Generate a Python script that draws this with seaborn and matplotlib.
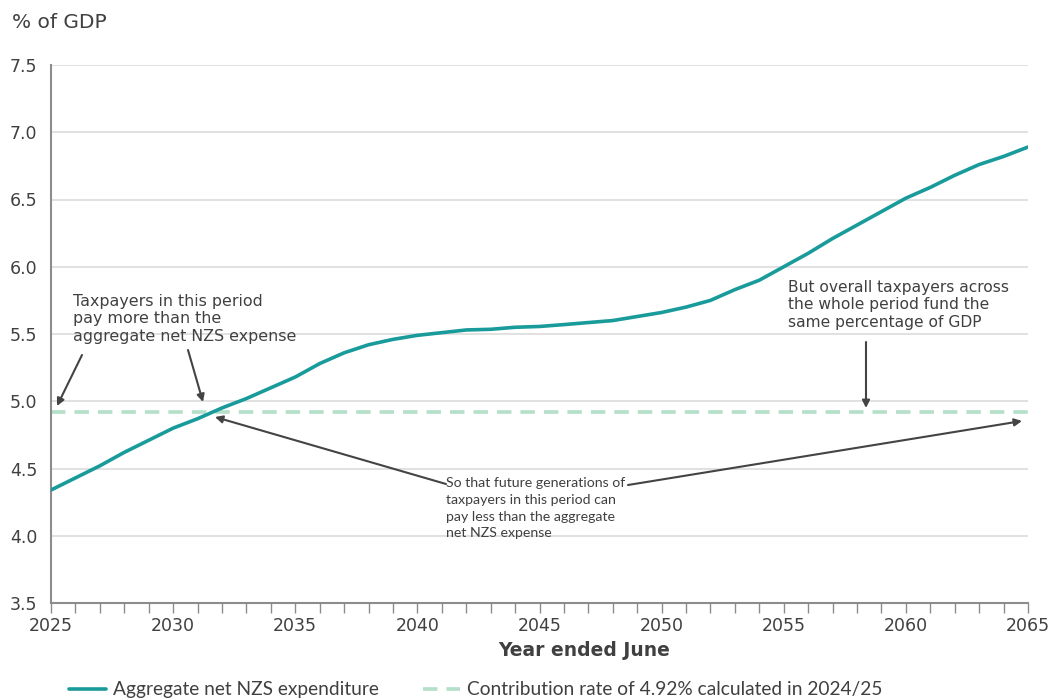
import numpy as np
import pandas as pd
import matplotlib
matplotlib.use("Agg")
import matplotlib.pyplot as plt
import seaborn as sns

years = list(range(2025, 2066))
net_nzs = [4.34, 4.43, 4.52, 4.62, 4.71, 4.80, 4.87, 4.95, 5.02, 5.10,
           5.18, 5.28, 5.36, 5.42, 5.46, 5.49, 5.51, 5.53, 5.535, 5.55,
           5.556, 5.57, 5.585, 5.60, 5.63, 5.66, 5.70, 5.75, 5.83, 5.90,
           6.00, 6.10, 6.21, 6.31, 6.41, 6.51, 6.59, 6.68, 6.76, 6.82, 6.89]
contribution_rate = 4.92
series_labels = ["Aggregate net NZS expenditure",
                 "Contribution rate of 4.92% calculated in 2024/25"]
y_ticks = [3.5, 4.0, 4.5, 5.0, 5.5, 6.0, 6.5, 7.0, 7.5]
x_ticks = [2025, 2030, 2035, 2040, 2045, 2050, 2055, 2060, 2065]

sns.set_theme(style="white")
plt.rcParams['font.family'] = ['DejaVu Sans']

WIDE = ['DejaVu Sans']
NARROW = ['Lato', 'DejaVu Sans']

TEAL = "#1a9b9b"
MINT = "#b4dfc9"
TXT = "#404040"
GRID = "#dcdcdc"
SPINE = "#8c8c8c"

fig = plt.figure(figsize=(10.56, 7.0), dpi=100)
ax = fig.add_axes([51/1056, 97/700, 977/1056, 538/700])

df = pd.DataFrame({"year": years, "value": net_nzs})
df_c = pd.DataFrame({"year": years, "value": [contribution_rate]*len(years)})

sns.lineplot(data=df_c, x="year", y="value", ax=ax, color=MINT, lw=2.6,
             label=series_labels[1], zorder=2)
ax.lines[-1].set_dashes([4, 2.5])
sns.lineplot(data=df, x="year", y="value", ax=ax, color=TEAL, lw=2.6,
             label=series_labels[0], zorder=3)

ax.set_xlim(2025, 2065)
ax.set_ylim(3.5, 7.5)
ax.set_yticks(y_ticks)
ax.set_yticklabels([f"{v:.1f}" for v in y_ticks])
ax.set_xticks(x_ticks)
ax.set_xticks(years, minor=True)
ax.set_xlabel("")
ax.set_ylabel("")
ax.yaxis.grid(True, color=GRID, lw=1.2)
ax.set_axisbelow(True)
for s in ["top", "right"]:
    ax.spines[s].set_visible(False)
for s in ["left", "bottom"]:
    ax.spines[s].set_color(SPINE)
    ax.spines[s].set_linewidth(1.5)
ax.tick_params(axis="x", which="both", direction="out", length=7, width=1,
               color=SPINE, bottom=True, labelsize=12.5, labelcolor=TXT, pad=3)
ax.tick_params(axis="y", which="both", length=0, labelsize=12.5,
               labelcolor=TXT, pad=10)
for lab in ax.get_xticklabels() + ax.get_yticklabels():
    lab.set_family(WIDE)

fig.text(12/1056, 1-22/700, "% of GDP", fontsize=14.5, color=TXT, va="center",
         ha="left", family=WIDE)
fig.text(584/1056, 1-650/700, "Year ended June", fontsize=13.5, fontweight="bold",
         color=TXT, va="center", ha="center", family=WIDE)

arrowprops = dict(arrowstyle="-|>", color="#444444", lw=1.5, mutation_scale=11,
                  shrinkA=0, shrinkB=0)

def px2d(px, py):
    return (2025 + (px - 51) / 977 * 40, 3.5 + (603 - py) / 538 * 4)

ax.text(*px2d(73, 294), "Taxpayers in this period\npay more than the\naggregate net NZS expense",
        fontsize=11.4, color=TXT, va="top", ha="left", linespacing=1.2, family=WIDE)
ax.annotate("", xy=px2d(57, 406), xytext=px2d(82, 355), arrowprops=arrowprops)
ax.annotate("", xy=px2d(203, 402), xytext=px2d(188, 350), arrowprops=arrowprops)

ax.text(*px2d(446, 477), "So that future generations of\ntaxpayers in this period can\npay less than the aggregate\nnet NZS expense",
        fontsize=10.2, color=TXT, va="top", ha="left", linespacing=1.48, family=NARROW)
ax.annotate("", xy=px2d(215, 417), xytext=px2d(446, 484), arrowprops=arrowprops)
ax.annotate("", xy=px2d(1022, 421), xytext=px2d(628, 485), arrowprops=arrowprops)

ax.text(*px2d(788, 280), "But overall taxpayers across\nthe whole period fund the\nsame percentage of GDP",
        fontsize=11.2, color=TXT, va="top", ha="left", linespacing=1.2, family=WIDE)
ax.annotate("", xy=px2d(866, 408), xytext=px2d(866, 342), arrowprops=arrowprops)

handles, labels = ax.get_legend_handles_labels()
order = [labels.index(series_labels[0]), labels.index(series_labels[1])]
ax.get_legend().remove()
leg = fig.legend([handles[i] for i in order], [labels[i] for i in order],
                 loc="center left", bbox_to_anchor=(52/1056, 1-690/700), ncol=2,
                 frameon=False, prop={"family": NARROW, "size": 13.8},
                 handlelength=1.9, handletextpad=0.4, columnspacing=2.3,
                 labelcolor=TXT)

fig.savefig("out.png", dpi=100, facecolor="white")
